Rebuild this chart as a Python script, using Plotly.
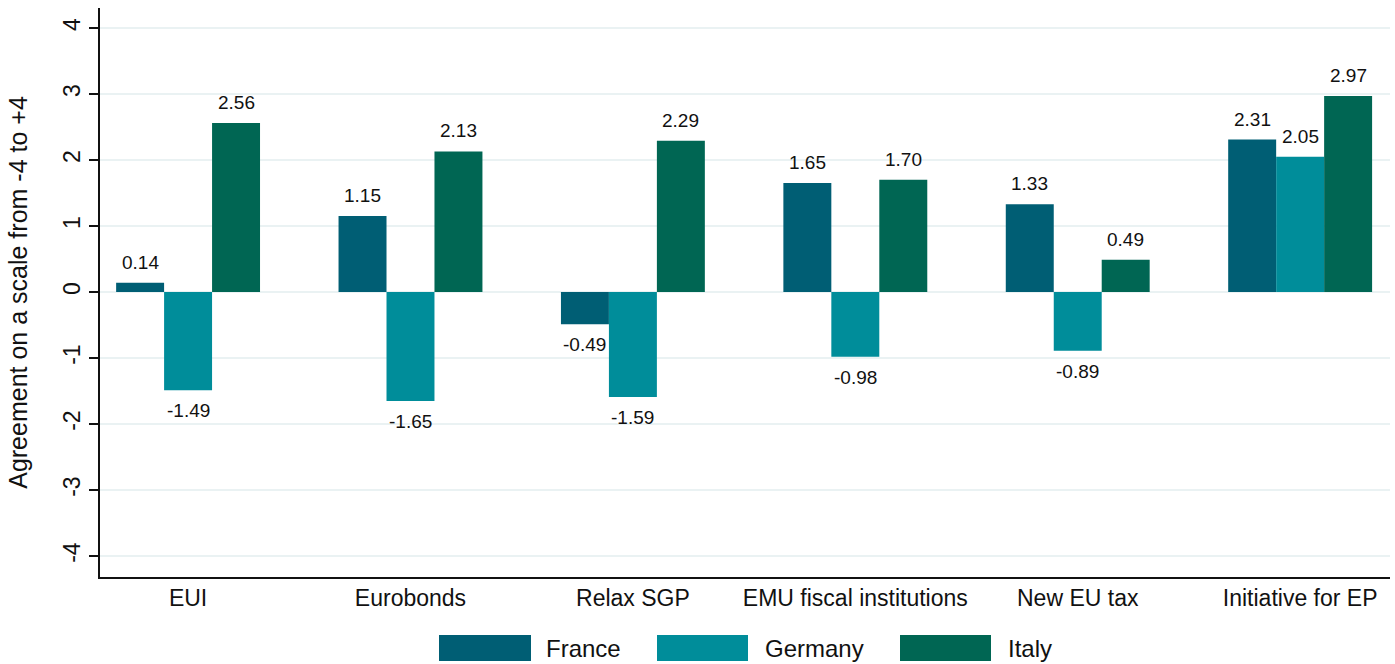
import plotly.graph_objects as go

categories = ["EUI", "Eurobonds", "Relax SGP", "EMU fiscal institutions", "New EU tax", "Initiative for EP"]
france = [0.14, 1.15, -0.49, 1.65, 1.33, 2.31]
germany = [-1.49, -1.65, -1.59, -0.98, -0.89, 2.05]
italy = [2.56, 2.13, 2.29, 1.70, 0.49, 2.97]
series_names = ["France", "Germany", "Italy"]
colors = ["#005E74", "#008D9A", "#006653"]
y_ticks = [-4, -3, -2, -1, 0, 1, 2, 3, 4]

W, H = 1395, 664
L, R, T, B = 100, 5, 8, 87
pw, ph = W - L - R, H - T - B
FONT = "Liberation Sans, Arial"
BARGAP = 0.353
bar_w = (1 - BARGAP) / 3

xpos = list(range(len(categories)))
fig = go.Figure()
for k, (name, vals, col) in enumerate(zip(series_names, [france, germany, italy], colors)):
    fig.add_trace(go.Bar(
        x=xpos, y=vals, name=name, marker=dict(color=col, line=dict(width=0)),
        showlegend=False,
    ))
    off = (k - 1) * bar_w
    for xi, v in zip(xpos, vals):
        fig.add_annotation(
            x=xi + off, y=v, text=f"{v:.2f}", showarrow=False,
            yanchor="bottom" if v >= 0 else "top", yshift=8 if v >= 0 else -8,
            font=dict(size=19, color="#111111", family=FONT),
        )

# custom legend (wide swatches)
legend_boxes = [(439, 531, 544), (657, 748, 763), (900, 991, 1006)]
def px2x(px):
    return (px - L) / pw
def py2y(py):
    return (H - B - py) / ph
for (x0, x1, tx), name, col in zip(legend_boxes, series_names, colors):
    fig.add_shape(type="rect", xref="paper", yref="paper",
                  x0=px2x(x0), x1=px2x(x1), y0=py2y(661), y1=py2y(635),
                  fillcolor=col, line=dict(width=0))
    fig.add_annotation(xref="paper", yref="paper", x=px2x(tx), y=py2y(648),
                       text=name, showarrow=False, xanchor="left", yanchor="middle",
                       font=dict(size=24, color="#111111", family=FONT))

fig.update_layout(
    width=W, height=H,
    margin=dict(l=L, r=R, t=T, b=B),
    barmode="group", bargap=BARGAP, bargroupgap=0,
    plot_bgcolor="white", paper_bgcolor="white",
    font=dict(family=FONT, size=21, color="#111111"),
    xaxis=dict(
        range=[-0.396, 5.404], tickmode="array", tickvals=xpos, ticktext=categories,
        showline=True, linecolor="#111111", linewidth=1.5, ticks="", showgrid=False,
        zeroline=False, tickfont=dict(size=23), fixedrange=True,
    ),
    yaxis=dict(
        range=[-4.318, 4.303], tickmode="array", tickvals=y_ticks,
        ticktext=[str(v) for v in y_ticks], tickangle=-90,
        showline=True, linecolor="#111111", linewidth=1.5,
        ticks="outside", ticklen=9, tickcolor="#111111", tickwidth=1.5,
        showgrid=True, gridcolor="#EAF2F3", gridwidth=1.5, zeroline=False,
        tickfont=dict(size=23),
        title=dict(text="Agreement on a scale from -4 to +4", font=dict(size=25), standoff=24),
    ),
)

fig.write_html("out.html", config={"displayModeBar": False},
               post_script="document.body.style.margin='0';document.body.style.overflow='hidden';")
